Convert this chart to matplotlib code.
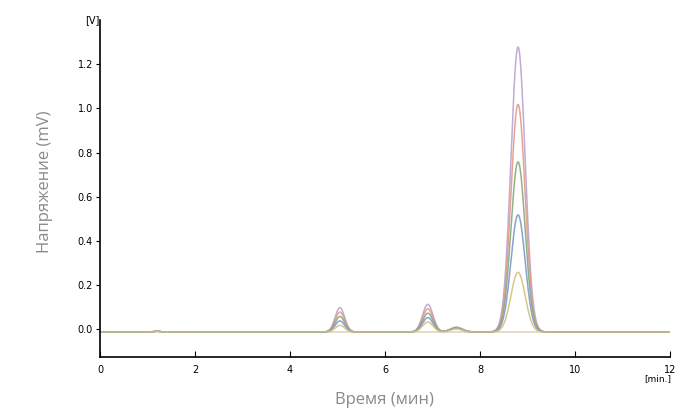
import numpy as np
import matplotlib.pyplot as plt

# peak retention times (min) and widths (sigma, min)
rt = [1.2, 5.05, 6.9, 7.5, 8.8]
sigma = [0.06, 0.1, 0.11, 0.13, 0.15]

# peak heights (V) for each trace
heights = {
    "purple": [0.004, 0.11, 0.125, 0.022, 1.29],
    "red": [0.004, 0.09, 0.105, 0.020, 1.03],
    "green": [0.004, 0.07, 0.085, 0.018, 0.77],
    "blue": [0.004, 0.05, 0.065, 0.016, 0.53],
    "yellow": [0.004, 0.03, 0.045, 0.014, 0.27],
}
colors = {
    "purple": "#b9a3d0",
    "red": "#e39a86",
    "green": "#86a87c",
    "blue": "#7d98c8",
    "yellow": "#d2c27a",
}
baseline = -0.012

xticks = [0, 2, 4, 6, 8, 10, 12]
yticks = [0.0, 0.2, 0.4, 0.6, 0.8, 1.0, 1.2]

t = np.linspace(0, 12, 3000)

fig = plt.figure(figsize=(6.91, 4.17), dpi=100)
ax = fig.add_axes([0.1447, 0.144, 0.825, 0.808])

for name, h in heights.items():
    y = np.full_like(t, baseline)
    for r, s, a in zip(rt, sigma, h):
        y = y + a * np.exp(-0.5 * ((t - r) / s) ** 2)
    ax.plot(t, y, color=colors[name], lw=1.1, alpha=0.9)

ax.plot(t, np.full_like(t, baseline), color="#d9cbb0", lw=1.0, zorder=0)

ax.set_xlim(0, 12)
ax.set_ylim(-0.125, 1.4)
ax.spines["top"].set_visible(False)
ax.spines["right"].set_visible(False)
ax.spines["left"].set_linewidth(1.2)
ax.spines["bottom"].set_linewidth(1.2)

tickfont = ["Liberation Sans Narrow", "DejaVu Sans"]
ax.set_xticks(xticks)
ax.set_xticklabels([str(v) for v in xticks], family=tickfont, fontsize=7)
ax.set_yticks(yticks)
ax.set_yticklabels([f"{v:.1f}" for v in yticks], family=tickfont, fontsize=7)
ax.tick_params(axis="x", direction="in", length=4, pad=6)
ax.tick_params(axis="y", direction="out", length=3, pad=2)

ax.text(-0.01, 1.4, "[V]", ha="right", va="center", fontsize=7, family=tickfont)
ax.text(12.03, -0.222, "[min.]", ha="right", va="center", fontsize=6.5, family=tickfont)

fig.text(0.557, 0.04, "Время (мин)", family="Open Sans", fontsize=12,
         color="#8a8a8a", ha="center", va="center")
fig.text(0.065, 0.565, "Напряжение (mV)", family="Open Sans", fontsize=12,
         color="#8a8a8a", ha="center", va="center", rotation=90)

fig.savefig("out.png", dpi=100)
